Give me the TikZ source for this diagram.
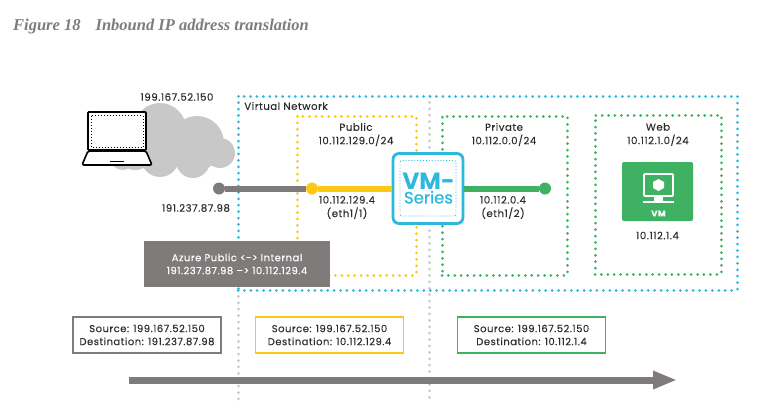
\documentclass[tikz,border=0pt]{standalone}
\usepackage{fontspec}
\setmainfont{Poppins}[LetterSpace=5,FakeBold=0.12]
\newfontfamily\titlefont{Liberation Serif}
\newfontfamily\vmfont{Poppins}
\newfontfamily\serfont{Poppins}[FakeBold=0.8]
\usetikzlibrary{arrows.meta,positioning,calc}
\definecolor{ink}{RGB}{45,45,45}
\definecolor{cGray}{RGB}{127,123,122}
\definecolor{cDots}{RGB}{200,200,204}
\definecolor{cCloud}{RGB}{200,200,200}
\definecolor{cBlue}{RGB}{45,184,222}
\definecolor{cYellow}{RGB}{253,200,20}
\definecolor{cGreen}{RGB}{62,178,98}
\tikzset{
  txt/.style={text=ink,font=\fontsize{10.2}{13.5}\selectfont,align=center,inner sep=0pt},
  zone/.style={draw=#1,line width=3pt,line cap=round,dash pattern=on 0.01pt off 6.4pt,
    rectangle,inner sep=0pt,outer sep=0pt,anchor=north west},
  wire/.style={line width=6pt},
  port/.style={circle,fill=#1,inner sep=0pt,minimum size=12pt},
  addr/.style={draw=#1,line width=1.1pt,fill=white,inner sep=0pt,minimum width=148pt,
    minimum height=36pt,font=\fontsize{10}{13}\selectfont\color{ink},align=center},
  divider/.style={draw=cDots,line width=3pt,line cap=round,dash pattern=on 0.01pt off 6.4pt},
}
\begin{document}
\begin{tikzpicture}[x=1pt,y=-1pt]
  \useasboundingbox (0,0) rectangle (772,413);
  \node[anchor=west,text=cGray,inner sep=0pt,font=\fontsize{16.5}{18}\titlefont\bfseries\itshape] (caption) at (13,27) {Figure 18\hspace{15pt}Inbound IP address translation};
  % dividers
  \coordinate (divAtop) at (238,290);
  \coordinate (divAbot) at (238,403);
  \coordinate (divBtop) at (429,96);
  \coordinate (divBbot) at (429,403);
  \draw[divider] (divAtop) -- (divAbot);
  \draw[divider] (divBtop) -- (divBbot);
  % cloud and laptop
  \foreach \cx/\cy/\cr in {160/129/26,197/143/27,220/153/15,160/158/19,193/161/17,123/157/13,135/150/20}
    \fill[cCloud] (\cx,\cy) circle (\cr);
  \draw[black,line width=1.6pt,fill=white,rounded corners=0.8pt] (88,112) rectangle (146,150);
  \draw[black,line width=1pt,dotted] (91,115.5) rectangle (143,147);
  \draw[black,line width=1.6pt,fill=white,line join=round,rounded corners=1.5pt] (88,151) -- (146,151) -- (152,165) -- (82,165) -- cycle;
  \draw[black,line width=1.5pt] (110,161.5) -- (124,161.5);
  % zones
  \node[zone=cBlue,minimum width=499pt,minimum height=194pt] (vnet) at (238,96) {};
  \node[zone=cYellow,minimum width=119pt,minimum height=159pt] (public) at (297,116) {};
  \node[zone=cGreen,minimum width=125pt,minimum height=159pt] (private) at (442,116) {};
  \node[zone=cGreen,minimum width=126pt,minimum height=159pt] (web) at (595,115) {};
  \node[txt] (vnetlbl) at (286,106) {Virtual Network};
  \node[txt] (publbl) at (356,134.5) {Public\\10.112.129.0/24};
  \node[txt] (prilbl) at (504,134.5) {Private\\10.112.0.0/24};
  \node[txt] (weblbl) at (658,134.5) {Web\\10.112.1.0/24};
  \node[txt] (inetlbl) at (177,97) {199.167.52.150};
  \node[txt] (extlbl) at (196,208) {191.237.87.98};
  % firewall and links
  \node[draw=cBlue,line width=2.8pt,fill=white,rounded corners=6pt,minimum width=70pt,minimum height=70pt,inner sep=0pt] (vmfw) at (428,188.5) {};
  \draw[cBlue,line width=0.9pt,dotted,rounded corners=2pt] (400,160.5) rectangle (456,216);
  \node[text=cBlue,inner sep=0pt,align=center] (vmtxt) at (428.5,188.5) {\vmfont\bfseries\fontsize{23.5}{19}\selectfont VM-\\\serfont\mdseries\fontsize{16.5}{17}\selectfont Series};
  \node[port=cGray] (extip) at (219,188.5) {};
  \node[port=cYellow] (pubip) at (312,188.5) {};
  \node[port=cGreen] (priip) at (545,188.5) {};
  \draw[wire,cGray] (extip) -- (pubip);
  \draw[wire,cYellow] (pubip) -- (vmfw);
  \draw[wire,cGreen] (vmfw) -- (priip);
  \node[txt] (publbl2) at (347,207.5) {10.112.129.4\\(eth1/1)};
  \node[txt] (prilbl2) at (503,207.5) {10.112.0.4\\(eth1/2)};
  % VM tile
  \node[fill=cGreen,rounded corners=2pt,minimum width=71pt,minimum height=59pt,inner sep=0pt] (vmtile) at (657.5,191.5) {};
  \draw[white,line width=1.8pt,rounded corners=1pt] (644,174) rectangle (673,196);
  \fill[white] (654,196) rectangle (663,201);
  \fill[white] (643,200.5) rectangle (674,202.5);
  \fill[white] (658.5,179) -- (664,182) -- (664,188) -- (658.5,191) -- (653,188) -- (653,182) -- cycle;
  \node[text=white,inner sep=0pt,font=\fontsize{8.5}{10}\selectfont\bfseries] (vmname) at (658.5,213.5) {VM};
  \node[txt] (vmaddr) at (657.5,235.5) {10.112.1.4};
  % translation box
  \node[fill=cGray,text=white,inner sep=0pt,minimum width=186pt,minimum height=46pt,font=\fontsize{10}{13}\selectfont,align=center] (nat) at (237,264) {Azure Public <-> Internal\\191.237.87.98 --> 10.112.129.4};
  % packet boxes
  \node[addr=cGray] (pktA) at (147,335) {Source: 199.167.52.150\\Destination: 191.237.87.98};
  \node[addr=cYellow] (pktB) at (329.5,335) {Source: 199.167.52.150\\Destination: 10.112.129.4};
  \node[addr=cGreen] (pktC) at (531.5,335) {Source: 199.167.52.150\\Destination: 10.112.1.4};
  % direction
  \coordinate (flowA) at (129,380);
  \coordinate (flowB) at (677,380);
  \draw[cGray,line width=7pt,-{Triangle[length=24pt,width=17pt]}] (flowA) -- (flowB);
\end{tikzpicture}
\end{document}
